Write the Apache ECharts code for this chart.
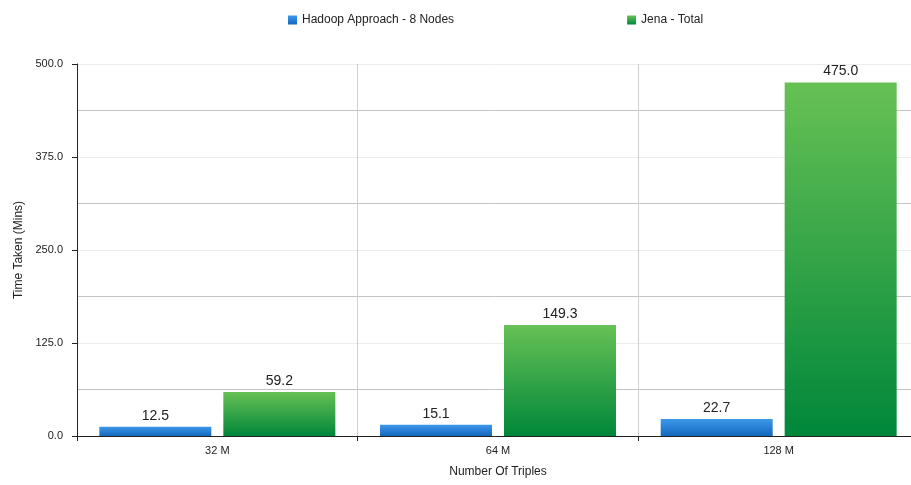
<!DOCTYPE html>
<html>
<head>
<meta charset="utf-8">
<script src="https://cdn.jsdelivr.net/npm/echarts@6/dist/echarts.min.js"></script>
<style>
  html, body { margin: 0; padding: 0; background: #fff; }
  #chart { width: 911px; height: 485px; }
</style>
</head>
<body>
<div id="chart"></div>
<script>
// data
var categories = ['32 M', '64 M', '128 M'];
var hadoopValues = [12.5, 15.1, 22.7];
var jenaValues = [59.2, 149.3, 475.0];
var seriesNames = ['Hadoop Approach - 8 Nodes', 'Jena - Total'];

var chart = echarts.init(document.getElementById('chart'));

function grad(top, bottom) {
  return new echarts.graphic.LinearGradient(0, 0, 0, 1, [
    { offset: 0, color: top },
    { offset: 1, color: bottom }
  ]);
}

var font = 'Liberation Sans, Arial, Helvetica, sans-serif';

chart.setOption({
  animation: false,
  textStyle: { fontFamily: font },
  legend: {
    top: 9,
    left: 283,
    itemWidth: 9,
    itemHeight: 9,
    itemGap: 173,
    icon: 'rect',
    textStyle: { fontSize: 12, color: '#222', fontFamily: font },
    data: seriesNames
  },
  // plot runs a little past the right edge, like the original
  grid: { left: 77, width: 842, top: 64, bottom: 49, outerBoundsMode: 'none' },
  xAxis: {
    type: 'category',
    data: categories,
    name: 'Number Of Triples',
    nameLocation: 'middle',
    nameGap: 30,
    nameTextStyle: { fontSize: 12, color: '#222' },
    axisLine: { lineStyle: { color: '#222', width: 1 } },
    axisTick: { show: true, length: 5, lineStyle: { color: '#222' } },
    axisLabel: { fontSize: 11, color: '#222', margin: 9 },
    splitLine: { show: true, lineStyle: { color: '#cfcfcf', width: 1 } }
  },
  yAxis: {
    type: 'value',
    min: 0,
    max: 500,
    interval: 125,
    name: 'Time Taken (Mins)',
    nameLocation: 'middle',
    nameGap: 51,
    nameTextStyle: { fontSize: 12, color: '#222' },
    axisLine: { show: true, lineStyle: { color: '#222', width: 1 } },
    axisTick: { show: true, length: 5, lineStyle: { color: '#222' } },
    axisLabel: {
      fontSize: 11, color: '#222', margin: 14,
      formatter: function (v) { return v.toFixed(1); }
    },
    splitLine: { show: true, lineStyle: { color: '#ececec', width: 1 } },
    minorTick: { show: false, splitNumber: 2 },
    minorSplitLine: { show: true, lineStyle: { color: '#c4c4c4', width: 1 } }
  },
  series: [
    {
      name: seriesNames[0],
      type: 'bar',
      data: hadoopValues,
      barWidth: 112,
      barGap: '10.7%',
      itemStyle: { color: grad('#3d98ea', '#1467bd') },
      label: {
        show: true, position: 'top', fontSize: 14, color: '#222', distance: 4,
        formatter: function (p) { return p.value.toFixed(1); }
      }
    },
    {
      name: seriesNames[1],
      type: 'bar',
      data: jenaValues,
      barWidth: 112,
      itemStyle: { color: grad('#67c155', '#00873a') },
      label: {
        show: true, position: 'top', fontSize: 14, color: '#222', distance: 4,
        formatter: function (p) { return p.value.toFixed(1); }
      }
    }
  ]
});
</script>
</body>
</html>
